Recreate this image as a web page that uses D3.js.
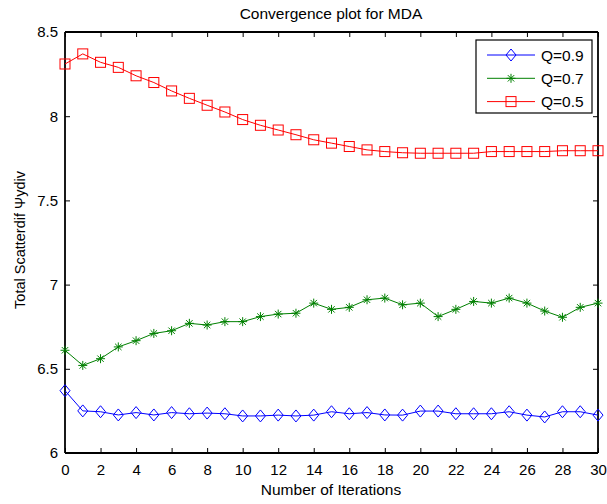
<!DOCTYPE html>
<html><head><meta charset="utf-8">
<script src="https://cdn.jsdelivr.net/npm/d3@7"></script>
<style>body{margin:0;background:#fff}svg{display:block}text{font-family:"Liberation Sans",Arial,sans-serif}</style>
</head><body><svg id="c" width="607" height="504"></svg>
<script>
const iterations = d3.range(0, 31);
const q09 = [6.37,6.25,6.245,6.226,6.24,6.226,6.24,6.233,6.237,6.233,6.22,6.22,6.225,6.22,6.225,6.245,6.233,6.24,6.226,6.225,6.249,6.249,6.233,6.233,6.233,6.245,6.225,6.214,6.245,6.245,6.225];
const q07 = [6.61,6.52,6.56,6.63,6.667,6.71,6.726,6.77,6.76,6.78,6.78,6.81,6.825,6.83,6.89,6.853,6.865,6.91,6.92,6.88,6.89,6.81,6.853,6.90,6.89,6.92,6.89,6.843,6.806,6.865,6.89];
const q05 = [8.31,8.37,8.32,8.29,8.24,8.20,8.15,8.106,8.065,8.025,7.98,7.946,7.918,7.89,7.86,7.84,7.82,7.80,7.79,7.783,7.78,7.78,7.78,7.78,7.79,7.79,7.79,7.79,7.795,7.795,7.795];
const seriesNames = ["Q=0.9","Q=0.7","Q=0.5"];
const seriesColors = ["#0000ff","#008000","#ff0000"];
const xTicks = d3.range(0, 31, 2);
const yTicks = [6,6.5,7,7.5,8,8.5];

const svg = d3.select("#c");
const L=65, R=598, T=32, B=453;
const x = d3.scaleLinear().domain([0,30]).range([L,R]);
const y = d3.scaleLinear().domain([6,8.5]).range([B,T]);
const fmt = d => (Math.round(d*10)/10).toString();

// axes with inward ticks
const gBottom = svg.append("g").attr("transform",`translate(0,${B})`)
  .call(d3.axisBottom(x).tickValues(xTicks).tickSize(-5).tickPadding(11).tickFormat(d3.format("d")));
const gTop = svg.append("g").attr("transform",`translate(0,${T})`)
  .call(d3.axisTop(x).tickValues(xTicks).tickSize(-5).tickFormat(""));
const gLeft = svg.append("g").attr("transform",`translate(${L},0)`)
  .call(d3.axisLeft(y).tickValues(yTicks).tickSize(-5).tickPadding(7).tickFormat(fmt));
const gRight = svg.append("g").attr("transform",`translate(${R},0)`)
  .call(d3.axisRight(y).tickValues(yTicks).tickSize(-5).tickFormat(""));
[gBottom,gTop,gLeft,gRight].forEach(g=>{
  g.select(".domain").attr("stroke","#000").attr("stroke-width",1.8);
  g.selectAll(".tick line").attr("stroke","#000");
  g.selectAll("text").attr("font-size",15).attr("fill","#000").attr("font-family","Liberation Sans, Arial, sans-serif");
});
gBottom.select(".domain").attr("d",`M${L},0H${R}`);
gTop.select(".domain").attr("d",`M${L},0H${R}`);
gLeft.select(".domain").attr("d",`M0,${B}V${T}`);
gRight.select(".domain").attr("d",`M0,${B}V${T}`);

// markers
function marker(g, type, color){
  if(type==="diamond"){
    g.append("path").attr("d","M0,-6L5,0L0,6L-5,0Z").attr("fill","none").attr("stroke",color).attr("stroke-width",1);
  } else if(type==="square"){
    g.append("rect").attr("x",-5).attr("y",-5).attr("width",10).attr("height",10).attr("fill","none").attr("stroke",color).attr("stroke-width",1);
  } else {
    g.append("path").attr("d","M0,-4.5V4.5M-4.5,0H4.5M-3.2,-3.2L3.2,3.2M-3.2,3.2L3.2,-3.2").attr("fill","none").attr("stroke",color).attr("stroke-width",1);
  }
}
const data = [q09,q07,q05];
const types = ["diamond","star","square"];
const line = d3.line().x((d,i)=>x(iterations[i])).y(d=>y(d));
const plot = svg.append("g");
data.forEach((vals,k)=>{
  plot.append("path").datum(vals).attr("d",line).attr("fill","none").attr("stroke",seriesColors[k]).attr("stroke-width",1);
  vals.forEach((v,i)=>{
    const g = plot.append("g").attr("transform",`translate(${x(iterations[i])},${y(v)})`);
    marker(g, types[k], seriesColors[k]);
  });
});

// title and labels
svg.append("text").attr("x",331).attr("y",19).attr("text-anchor","middle").attr("font-size",15.5).text("Convergence plot for MDA");
svg.append("text").attr("x",331).attr("y",495).attr("text-anchor","middle").attr("font-size",15.5).text("Number of Iterations");
svg.append("text").attr("transform","translate(25,240) rotate(-90)").attr("text-anchor","middle").attr("font-size",14.5).text("Total Scatterdif Ψydiv");

// legend
const lg = svg.append("g");
lg.append("rect").attr("x",476).attr("y",40).attr("width",116).attr("height",73).attr("fill","#fff").attr("stroke","#000").attr("stroke-width",1.2);
seriesNames.forEach((n,k)=>{
  const yy = 55 + k*23.3;
  lg.append("line").attr("x1",487).attr("x2",535).attr("y1",yy).attr("y2",yy).attr("stroke",seriesColors[k]);
  const g = lg.append("g").attr("transform",`translate(511,${yy})`);
  marker(g, types[k], seriesColors[k]);
  lg.append("text").attr("x",541).attr("y",yy+5.5).attr("font-size",15.5).text(n);
});
</script></body></html>
